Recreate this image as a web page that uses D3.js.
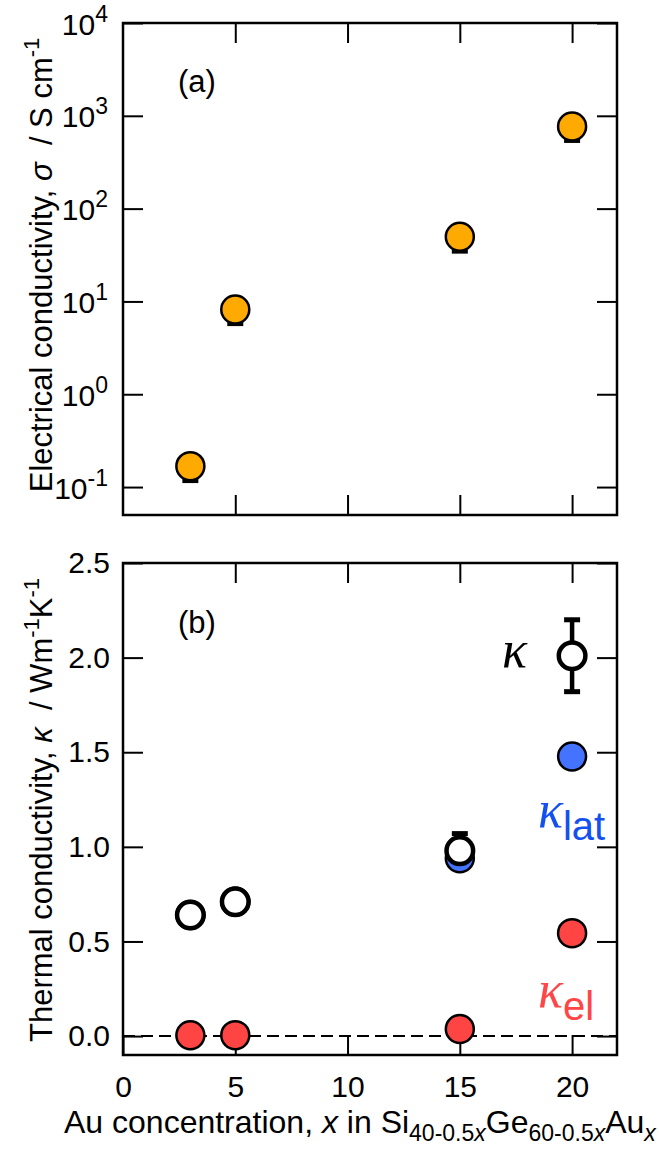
<!DOCTYPE html>
<html>
<head>
<meta charset="utf-8">
<script src="https://cdn.jsdelivr.net/npm/d3@7"></script>
<style>
body { margin: 0; background: #fff; }
svg { display: block; font-family: "Liberation Sans", Arial, sans-serif; }
svg text { white-space: pre; }
</style>
</head>
<body>
<script>
"use strict";

// Au concentration x of the four samples
const conc = [3, 5, 15, 20];
// (a) electrical conductivity, S/cm, and its error
const sigma = [0.168, 8.2, 49.8, 767];
const sigmaErr = [0.052, 2.5, 15.4, 231];
// (b) thermal conductivities, W/mK
const kappa = [0.64, 0.71, 0.98, 2.01];
const kappaErr = [0.04, 0.05, 0.09, 0.19];
const kappaLat = [0.64, 0.71, 0.94, 1.477];
const kappaEl = [0.004, 0.005, 0.037, 0.544];

const xTicks = [0, 5, 10, 15, 20];
const sigmaTicks = [1e-1, 1e0, 1e1, 1e2, 1e3, 1e4];
const kappaTicks = [0, 0.5, 1.0, 1.5, 2.0, 2.5];

const W = 659, H = 1150;
const left = 123, right = 617;
const fs = 30;

const svg = d3.select("body").append("svg")
    .attr("width", W)
    .attr("height", H)
    .attr("viewBox", [0, 0, W, H]);

const x = d3.scaleLinear([0, 22], [left, right]);
const ya = d3.scaleLog([0.05, 1e4], [515, 23]);
const yb = d3.scaleLinear([-0.1, 2.5], [1055, 563]);

// write a text made of parts, some of them super/subscript or italic
function richText(sel, parts) {
    let shift = 0;
    for(const p of parts) {
        const span = sel.append("tspan").text(p.t);
        const target = p.sup ? -p.sup : (p.sub ? p.sub : 0);
        if(target !== shift) {
            span.attr("dy", target - shift);
            shift = target;
        }
        if(p.size) span.attr("font-size", p.size);
        if(p.it) span.attr("font-style", "italic");
        if(p.font) span.attr("font-family", p.font);
    }
}

function cleanAxis(g) {
    g.select(".domain").remove();
    g.attr("font-size", null).attr("font-family", null);
    g.selectAll(".tick line").attr("stroke", "#000").attr("stroke-width", 2);
}

function frame(y) {
    const [b, t] = y.range();
    svg.append("rect")
        .attr("x", left)
        .attr("y", t)
        .attr("width", right - left)
        .attr("height", b - t)
        .attr("fill", "none")
        .attr("stroke", "#000")
        .attr("stroke-width", 2.5);

    svg.append("g")
        .attr("transform", `translate(0,${t})`)
        .call(d3.axisTop(x).tickValues(xTicks.slice(1)).tickSize(-20).tickFormat(""))
        .call(cleanAxis);
    svg.append("g")
        .attr("transform", `translate(${right},0)`)
        .call(d3.axisRight(y).tickValues(y === ya ? sigmaTicks : kappaTicks).tickSize(-20).tickFormat(""))
        .call(cleanAxis);
}

// ---------- panel (a) ----------
frame(ya);

svg.append("g")
    .attr("transform", "translate(0,515)")
    .call(d3.axisBottom(x).tickValues(xTicks.slice(1)).tickSize(-20).tickFormat(""))
    .call(cleanAxis);

svg.append("g")
    .attr("transform", `translate(${left},0)`)
    .call(d3.axisLeft(ya).tickValues(sigmaTicks).tickSize(-20).tickFormat(""))
    .call(cleanAxis)
    .call(g => g.selectAll(".tick text").remove())
    .call(g => g.selectAll(".tick").append("text")
        .attr("x", -15)
        .attr("y", 11)
        .attr("fill", "#000")
        .attr("text-anchor", "end")
        .attr("font-size", fs)
        .each(function(d) {
            richText(d3.select(this), [
                {t: "10"},
                {t: String(Math.round(Math.log10(d))), sup: 13, size: 23}
            ]);
        }));

const titleA = svg.append("text")
    .attr("transform", "translate(52,265) rotate(-90)")
    .attr("text-anchor", "middle")
    .attr("font-size", 31);
richText(titleA, [
    {t: "Electrical conductivity, "},
    {t: "σ", it: true},
    {t: "  / S cm"},
    {t: "-1", sup: 13, size: 22}
]);

svg.append("text")
    .attr("x", 178)
    .attr("y", 92)
    .attr("font-size", 31)
    .text("(a)");

const gA = svg.append("g");
gA.selectAll("line.err")
    .data(conc)
    .join("line")
    .attr("x1", d => x(d))
    .attr("x2", d => x(d))
    .attr("y1", (d, i) => ya(sigma[i] + sigmaErr[i]))
    .attr("y2", (d, i) => ya(sigma[i] - sigmaErr[i]))
    .attr("stroke", "#000")
    .attr("stroke-width", 3);
gA.selectAll("line.cap")
    .data(conc)
    .join("line")
    .attr("x1", d => x(d) - 8)
    .attr("x2", d => x(d) + 8)
    .attr("y1", (d, i) => ya(sigma[i] - sigmaErr[i]))
    .attr("y2", (d, i) => ya(sigma[i] - sigmaErr[i]))
    .attr("stroke", "#000")
    .attr("stroke-width", 4);
gA.selectAll("circle")
    .data(conc)
    .join("circle")
    .attr("cx", d => x(d))
    .attr("cy", (d, i) => ya(sigma[i]))
    .attr("r", 14)
    .attr("fill", "#FFAA00")
    .attr("stroke", "#000")
    .attr("stroke-width", 2.5);

// ---------- panel (b) ----------
frame(yb);

svg.append("g")
    .attr("transform", "translate(0,1055)")
    .call(d3.axisBottom(x).tickValues(xTicks).tickSize(-20).tickPadding(21))
    .call(cleanAxis)
    .call(g => g.selectAll(".tick text").attr("font-size", fs).attr("fill", "#000"));

svg.append("g")
    .attr("transform", `translate(${left},0)`)
    .call(d3.axisLeft(yb).tickValues(kappaTicks).tickSize(-20).tickPadding(13).tickFormat(d3.format(".1f")))
    .call(cleanAxis)
    .call(g => g.selectAll(".tick text").attr("font-size", fs).attr("fill", "#000"));

const titleB = svg.append("text")
    .attr("transform", "translate(52,810) rotate(-90)")
    .attr("text-anchor", "middle")
    .attr("font-size", 31);
richText(titleB, [
    {t: "Thermal conductivity, "},
    {t: "κ", it: true},
    {t: "  / Wm"},
    {t: "-1", sup: 13, size: 22},
    {t: "K"},
    {t: "-1", sup: 13, size: 22}
]);

svg.append("text")
    .attr("x", 178)
    .attr("y", 633)
    .attr("font-size", 31)
    .text("(b)");

const xTitle = svg.append("text")
    .attr("x", 64)
    .attr("y", 1133)
    .attr("font-size", 32);
richText(xTitle, [
    {t: "Au concentration, "},
    {t: "x", it: true},
    {t: " in Si"},
    {t: "40-0.5", sub: 8, size: 23},
    {t: "x", sub: 8, size: 23, it: true},
    {t: "Ge"},
    {t: "60-0.5", sub: 8, size: 23},
    {t: "x", sub: 8, size: 23, it: true},
    {t: "Au"},
    {t: "x", sub: 8, size: 23, it: true}
]);

// zero line
svg.append("line")
    .attr("x1", left)
    .attr("x2", right)
    .attr("y1", yb(0))
    .attr("y2", yb(0))
    .attr("stroke", "#000")
    .attr("stroke-width", 2)
    .attr("stroke-dasharray", "12,6");

const gB = svg.append("g");
gB.selectAll("line.err")
    .data(conc)
    .join("line")
    .attr("x1", d => x(d))
    .attr("x2", d => x(d))
    .attr("y1", (d, i) => yb(kappa[i] + kappaErr[i]))
    .attr("y2", (d, i) => yb(kappa[i] - kappaErr[i]))
    .attr("stroke", "#000")
    .attr("stroke-width", 4.5);
for(const sign of [1, -1]) {
    gB.append("g").selectAll("line")
        .data(conc)
        .join("line")
        .attr("x1", d => x(d) - 8)
        .attr("x2", d => x(d) + 8)
        .attr("y1", (d, i) => yb(kappa[i] + sign * kappaErr[i]))
        .attr("y2", (d, i) => yb(kappa[i] + sign * kappaErr[i]))
        .attr("stroke", "#000")
        .attr("stroke-width", 5);
}

gB.append("g").selectAll("circle")
    .data(conc)
    .join("circle")
    .attr("cx", d => x(d))
    .attr("cy", (d, i) => yb(kappaLat[i]))
    .attr("r", 14)
    .attr("fill", "#4473FF")
    .attr("stroke", "#000")
    .attr("stroke-width", 2.5);

gB.append("g").selectAll("circle")
    .data(conc)
    .join("circle")
    .attr("cx", d => x(d))
    .attr("cy", (d, i) => yb(kappaEl[i]))
    .attr("r", 14)
    .attr("fill", "#FF4444")
    .attr("stroke", "#000")
    .attr("stroke-width", 2.5);

gB.append("g").selectAll("circle")
    .data(conc)
    .join("circle")
    .attr("cx", d => x(d))
    .attr("cy", (d, i) => yb(kappa[i]))
    .attr("r", 13.3)
    .attr("fill", "#fff")
    .attr("stroke", "#000")
    .attr("stroke-width", 4.5);

// series labels
const serif = "'Liberation Serif', 'DejaVu Serif', serif";
svg.append("text")
    .attr("x", 502)
    .attr("y", 667)
    .attr("font-size", 52)
    .attr("font-style", "italic")
    .attr("font-family", serif)
    .text("κ");

const labLat = svg.append("text")
    .attr("x", 538)
    .attr("y", 827)
    .attr("fill", "#1450F0");
richText(labLat, [
    {t: "κ", it: true, size: 52, font: serif},
    {t: "lat", sub: 13, size: 40}
]);

const labEl = svg.append("text")
    .attr("x", 538)
    .attr("y", 1007)
    .attr("fill", "#FF4545");
richText(labEl, [
    {t: "κ", it: true, size: 52, font: serif},
    {t: "el", sub: 13, size: 40}
]);
</script>
</body>
</html>
